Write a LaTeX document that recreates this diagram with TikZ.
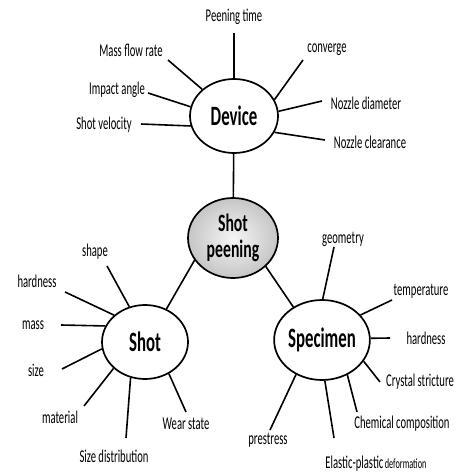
\documentclass[tikz,border=0pt]{standalone}
\usepackage{fontspec}
\setmainfont{Carlito}
\usetikzlibrary{shapes.geometric}

\tikzset{
  hub/.style={draw,ellipse,line width=1.7pt,inner sep=0pt,
    font=\fontsize{28}{30}\selectfont\bfseries},
  lbl/.style={font=\fontsize{18}{19}\selectfont,xscale=0.59,inner sep=0pt},
  spoke/.style={line width=1.6pt}
}

\begin{document}
\begin{tikzpicture}[x=1pt,y=-1pt]
\useasboundingbox (0,0) rectangle (458,473);
% centres
\node[hub,minimum width=88pt,minimum height=74pt] (dev) at (234,116) {\scalebox{0.6}[1]{Device}};
\node[hub,minimum width=90pt,minimum height=80pt,shading=radial,inner color=gray!8,outer color=gray!45,
  align=center,font=\fontsize{25}{27}\selectfont\bfseries] (sp) at (233,238) {\scalebox{0.63}[1]{Shot}\\[-1pt]\scalebox{0.63}[1]{peening}};
\node[hub,minimum width=86pt,minimum height=74pt] (shot) at (145,342) {\scalebox{0.6}[1]{Shot}};
\node[hub,minimum width=90pt,minimum height=80pt] (spec) at (322,340) {\scalebox{0.6}[1]{Specimen}};

\draw[spoke] (dev) -- (sp);
\draw[spoke] (shot.57) -- (sp.210);
\draw[spoke] (spec.131) -- (sp.319);

% device
\node[lbl] (ptime) at (234,17) {Peening time};
\node[lbl] (mfr) at (131,50) {Mass flow rate};
\node[lbl] (conv) at (327,50) {converge};
\node[lbl] (iang) at (117,90) {Impact angle};
\node[lbl] (svel) at (104,125) {Shot velocity};
\node[lbl] (ndia) at (366,103) {Nozzle diameter};
\node[lbl] (ncle) at (370,142) {Nozzle clearance};
\coordinate (ptime-e) at (234,33);
\coordinate (mfr-e) at (168,60);
\coordinate (conv-e) at (303,60);
\coordinate (iang-e) at (148,93);
\coordinate (svel-e) at (141,124);
\coordinate (ndia-e) at (322,101);
\coordinate (ncle-e) at (325,140);
\draw[spoke] (ptime-e) -- (dev.90);
\draw[spoke] (mfr-e) -- (dev.140);
\draw[spoke] (conv-e) -- (dev.22);
\draw[spoke] (iang-e) -- (dev.168);
\draw[spoke] (svel-e) -- (dev.193);
\draw[spoke] (ndia-e) -- (dev.6);
\draw[spoke] (ncle-e) -- (dev.338);

% shot
\node[lbl] (shp) at (95,252) {shape};
\node[lbl] (hrd) at (37,281) {hardness};
\node[lbl] (mss) at (33,325) {mass};
\node[lbl] (siz) at (36,370) {size};
\node[lbl] (mat) at (60,417) {material};
\node[lbl] (sdis) at (114,456) {Size distribution};
\node[lbl] (wear) at (186,424) {Wear state};
\coordinate (shp-e) at (107,266);
\coordinate (hrd-e) at (65,292);
\coordinate (mss-e) at (61,325);
\coordinate (siz-e) at (62,369);
\coordinate (mat-e) at (84,406);
\coordinate (sdis-e) at (126,438);
\coordinate (wear-e) at (186,412);
\draw[spoke] (shp-e) -- (shot.114);
\draw[spoke] (hrd-e) -- (shot.139);
\draw[spoke] (mss-e) -- (shot.158);
\draw[spoke] (siz-e) -- (shot.189);
\draw[spoke] (mat-e) -- (shot.220);
\draw[spoke] (sdis-e) -- (shot.248);
\draw[spoke] (wear-e) -- (shot.307);

% specimen
\node[lbl] (geo) at (343,239) {geometry};
\node[lbl] (tmp) at (421,291) {temperature};
\node[lbl] (shrd) at (426,338) {hardness};
\node[lbl] (cry) at (420,382) {Crystal stricture};
\node[lbl] (chem) at (402,424) {Chemical composition};
\node[lbl] (elas) at (376,464) {Elastic-plastic{\fontsize{14}{15}\selectfont\,deformation}};
\node[lbl] (pre) at (268,440) {prestress};
\coordinate (geo-e) at (334,247);
\coordinate (tmp-e) at (392,300);
\coordinate (shrd-e) at (390,338);
\coordinate (cry-e) at (380,382);
\coordinate (chem-e) at (357,412);
\coordinate (elas-e) at (334,438);
\coordinate (pre-e) at (270,430);
\draw[spoke] (geo-e) -- (spec.89);
\draw[spoke] (tmp-e) -- (spec.33);
\draw[spoke] (shrd-e) -- (spec.2);
\draw[spoke] (cry-e) -- (spec.333);
\draw[spoke] (chem-e) -- (spec.306);
\draw[spoke] (elas-e) -- (spec.274);
\draw[spoke] (pre-e) -- (spec.233);
\end{tikzpicture}
\end{document}
